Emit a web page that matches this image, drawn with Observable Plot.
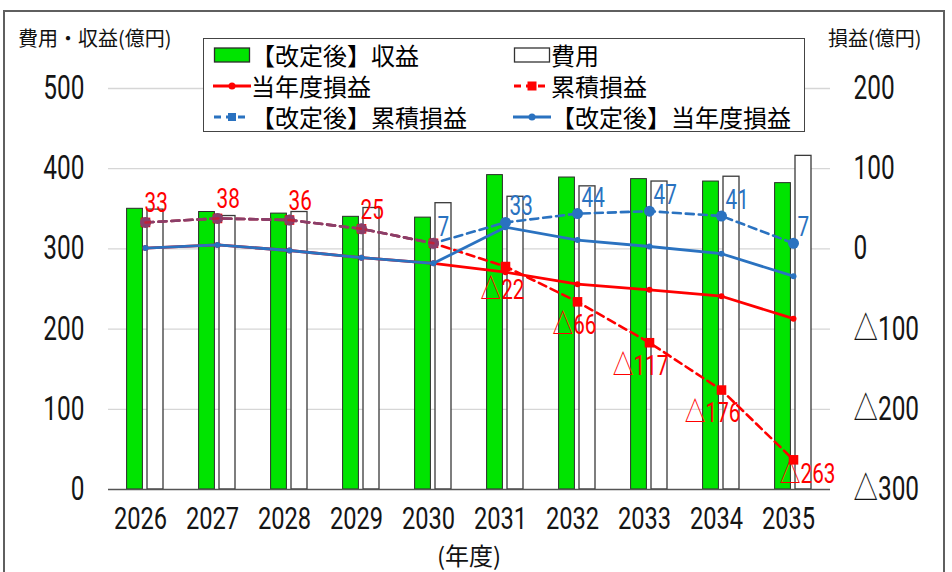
<!DOCTYPE html>
<html><head><meta charset="utf-8">
<script src="https://cdn.jsdelivr.net/npm/d3@7"></script>
<script src="https://cdn.jsdelivr.net/npm/@observablehq/plot@0.6"></script>
<style>
body{margin:0;background:#fff;}
#wrap{position:relative;width:952px;height:572px;overflow:hidden;font-family:"Noto Sans CJK JP",sans-serif;background:#fff;}
#wrap svg.plot{position:absolute;left:0;top:0;}
#frame{position:absolute;left:3px;top:10px;width:942px;height:620px;border:2px solid #5f5f5f;box-sizing:border-box;pointer-events:none}
.title{position:absolute;font-size:20px;color:#111;line-height:1;white-space:nowrap}
#legend{position:absolute;left:203px;top:38px;width:602px;height:94px;border:1.5px solid #444;background:#fff;box-sizing:border-box;}
.item{position:absolute;display:flex;align-items:center;height:28px;font-size:24px;line-height:1;color:#000;white-space:nowrap}
.item svg{display:block;flex:none}
</style></head>
<body><div id="wrap"></div>
<script>
// ---- data ----
const years = ["2026","2027","2028","2029","2030","2031","2032","2033","2034","2035"];
const revenueRevised = [350, 346, 344, 340, 339, 392, 389, 387, 384, 382];   // 【改定後】収益
const cost = [349, 341, 346, 351, 357, 365, 378, 384, 390, 416];             // 費用
const profitYear = [1, 5, -2, -11, -18, -29, -44, -51, -59, -87];            // 当年度損益
const profitCum = [33, 38, 36, 25, 7, -22, -66, -117, -176, -263];           // 累積損益
const profitCumRevised = [33, 38, 36, 25, 7, 33, 44, 47, 41, 7];             // 【改定後】累積損益
const profitYearRevised = [1, 5, -2, -11, -18, 27, 11, 3, -6, -34];          // 【改定後】当年度損益
const leftTicks = [0, 100, 200, 300, 400, 500];
const rightTickLabels = ["△300", "△200", "△100", "0", "100", "200"];
const redLabelYears = ["2026","2027","2028","2029","2031","2032","2033","2034","2035"];
const blueLabelYears = ["2030","2031","2032","2033","2034","2035"];
const legendLabels = ["【改定後】収益","費用","当年度損益","累積損益","【改定後】累積損益","【改定後】当年度損益"];

// right axis value = left axis value - OFF
const OFF = 300;
const RED = "#ff0000", BLUE = "#2a72c0", GREEN = "#00e400";
const NUMFONT = 'Roboto,"Noto Sans CJK JP",sans-serif';
const SQUEEZE = 0.74; // horizontal condensing of numeric text
const tri = v => v < 0 ? "△" + Math.abs(v) : String(v);

const data = years.map((year, i) => ({
  year, revenue: revenueRevised[i], cost: cost[i],
  py: profitYear[i], pc: profitCum[i], pcr: profitCumRevised[i], pyr: profitYearRevised[i]
}));
const same = data.filter(d => d.pc === d.pcr && years.indexOf(d.year) <= 4);
const redTop = data.filter(d => redLabelYears.includes(d.year) && d.pc >= 0);
const redBottom = data.filter(d => redLabelYears.includes(d.year) && d.pc < 0 && d.year !== years[years.length-1]);
const redLast = data.filter(d => redLabelYears.includes(d.year) && d.year === years[years.length-1]);
const blueLab = data.filter(d => blueLabelYears.includes(d.year));

const chart = Plot.plot({
  width: 952, height: 572,
  marginLeft: 108, marginRight: 122, marginTop: 88, marginBottom: 83,
  x: {type: "band", domain: years, padding: 0},
  y: {domain: [0, 500]},
  style: {fontFamily: NUMFONT, fontSize: "32px", color: "#111", background: "transparent"},
  marks: [
    Plot.gridY(leftTicks.filter(t => t > 0), {stroke: "#d6d6d6", strokeOpacity: 1, strokeWidth: 1.3}),
    Plot.barY(data, {x: "year", y: "revenue", fill: GREEN, stroke: "#2b2b2b", strokeWidth: 1, insetLeft: 17.6, insetRight: 38.6}),
    Plot.barY(data, {x: "year", y: "cost", fill: "#fff", stroke: "#3a3a3a", strokeWidth: 1.3, insetLeft: 38, insetRight: 18}),
    Plot.ruleY([0], {stroke: "#555", strokeWidth: 1.6}),
    Plot.axisY(leftTicks, {anchor: "left", tickSize: 0, tickPadding: 24, label: null, fontSize: 33, fill: "#151515"}),
    Plot.axisY(leftTicks, {anchor: "right", tickSize: 0, tickPadding: 23, label: null, fontSize: 33, fill: "#151515",
      tickFormat: v => rightTickLabels[leftTicks.indexOf(v)]}),
    Plot.axisX({tickSize: 0, tickPadding: 17, label: null, fontSize: 32, fill: "#151515", dx: -5}),
    // 当年度損益
    Plot.line(data, {x: "year", y: d => d.py + OFF, stroke: RED, strokeWidth: 2.8}),
    Plot.dot(data, {x: "year", y: d => d.py + OFF, fill: RED, r: 3}),
    // 累積損益
    Plot.line(data, {x: "year", y: d => d.pc + OFF, stroke: RED, strokeWidth: 2.6, strokeDasharray: "8,5"}),
    Plot.dot(data, {x: "year", y: d => d.pc + OFF, fill: RED, symbol: "square", r: 5.4}),
    // 【改定後】累積損益
    Plot.line(data, {x: "year", y: d => d.pcr + OFF, stroke: BLUE, strokeWidth: 2.6, strokeDasharray: "8,5"}),
    Plot.dot(data, {x: "year", y: d => d.pcr + OFF, fill: BLUE, r: 5.5}),
    Plot.line(same, {x: "year", y: d => d.pc + OFF, stroke: RED, strokeOpacity: 0.45, strokeWidth: 2.6, strokeDasharray: "8,5"}),
    Plot.dot(same, {x: "year", y: d => d.pc + OFF, fill: RED, fillOpacity: 0.45, r: 5.5}),
    // 【改定後】当年度損益
    Plot.line(data, {x: "year", y: d => d.pyr + OFF, stroke: BLUE, strokeWidth: 2.8}),
    Plot.dot(data, {x: "year", y: d => d.pyr + OFF, fill: BLUE, r: 3}),
    // labels
    Plot.text(redTop, {x: "year", y: d => d.pc + OFF, text: d => tri(d.pc), fill: RED, fontSize: 28, textAnchor: "start", dx: -1, dy: -19}),
    Plot.text(redBottom, {x: "year", y: d => d.pc + OFF, text: d => tri(d.pc), fill: RED, fontSize: 28, textAnchor: "end", dx: 19, dy: 23}),
    Plot.text(redLast, {x: "year", y: d => d.pc + OFF, text: d => tri(d.pc), fill: RED, fontSize: 28, textAnchor: "end", dx: 42, dy: 14}),
    Plot.text(blueLab, {x: "year", y: d => d.pcr + OFF, text: d => tri(d.pcr), fill: BLUE, fontSize: 28, textAnchor: "start", dx: 4, dy: -16})
  ]
});
chart.classList.add("plot");

const wrap = document.getElementById("wrap");
wrap.appendChild(chart);

// condense numeric text horizontally around each label's own anchor point
chart.querySelectorAll("text").forEach(t => {
  const b = t.getBBox();
  const anchor = getComputedStyle(t).textAnchor;
  const ax = anchor === "end" ? b.x + b.width : anchor === "middle" ? b.x + b.width / 2 : b.x;
  const tr = t.getAttribute("transform") || "";
  t.setAttribute("transform", `${tr} translate(${ax},0) scale(${SQUEEZE},1) translate(${-ax},0)`.trim());
});

function addTitle(text, left, top, size, center) {
  const el = document.createElement("div");
  el.className = "title";
  el.textContent = text;
  el.style.left = left + "px";
  el.style.top = top + "px";
  if (size) el.style.fontSize = size + "px";
  if (center) el.style.transform = "translateX(-50%)";
  wrap.appendChild(el);
}
addTitle("費用・収益(億円)", 18, 28, 20);
addTitle("損益(億円)", 828, 28, 20);
addTitle("(年度)", 469, 543, 24, true);

// legend
const sw = {
  bar: (fill, stroke) => `<svg width="38" height="20"><rect x="1.5" y="3" width="35" height="14" fill="${fill}" stroke="${stroke}" stroke-width="1.3"/></svg>`,
  solid: c => `<svg width="38" height="20"><line x1="0" y1="10" x2="38" y2="10" stroke="${c}" stroke-width="3"/><circle cx="19" cy="10" r="3.5" fill="${c}"/></svg>`,
  dashed: (c, sq) => `<svg width="38" height="20"><line x1="1" y1="10" x2="37" y2="10" stroke="${c}" stroke-width="3" stroke-dasharray="7,5"/><rect x="${19-sq/2}" y="${10-sq/2}" width="${sq}" height="${sq}" fill="${c}"/></svg>`
};
const legend = document.createElement("div");
legend.id = "legend";
const swatches = [sw.bar(GREEN, "#2b2b2b"), sw.bar("#fff", "#333"), sw.solid(RED), sw.dashed(RED, 9), sw.dashed(BLUE, 8), sw.solid(BLUE)];
legendLabels.forEach((lab, i) => {
  const it = document.createElement("div");
  it.className = "item";
  it.style.left = (i % 2 === 0 ? 9 : 309) + "px";
  it.style.top = (2 + Math.floor(i / 2) * 31) + "px";
  it.innerHTML = swatches[i] + `<span>${lab}</span>`;
  legend.appendChild(it);
});
wrap.appendChild(legend);

const frame = document.createElement("div");
frame.id = "frame";
wrap.appendChild(frame);
</script>
</body></html>
